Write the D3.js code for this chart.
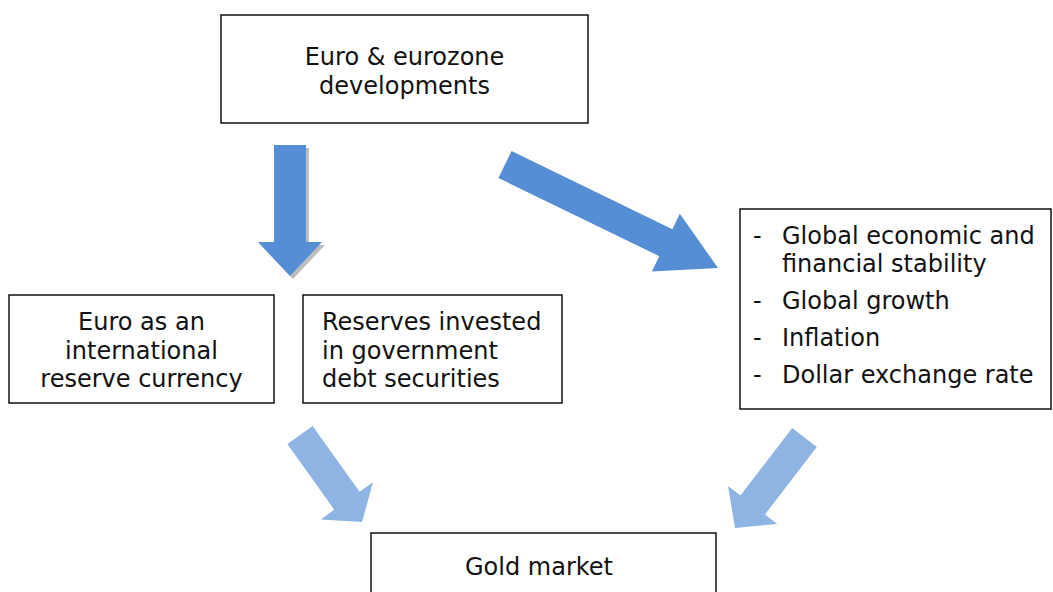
<!DOCTYPE html>
<html lang="en">
<head>
    <meta charset="UTF-8">
    <title>Euro and gold market</title>
    <script type="text/javascript" src="https://cdn.jsdelivr.net/npm/d3@7"></script>
    <style>
        body { margin: 0; background: #fff; }
        svg text { font-family: "DejaVu Sans", Verdana, sans-serif; font-size: 24px; fill: #111; }
        .box rect { fill: #fff; stroke: #111; stroke-width: 1.5; }
    </style>
</head>
<body>
<svg width="1053" height="592"></svg>

<script>
    // box texts (one entry per line)
    var topLines = ["Euro & eurozone", "developments"];
    var leftLines = ["Euro as an", "international", "reserve currency"];
    var midLines = ["Reserves invested", "in government", "debt securities"];
    var rightItems = [["Global economic and", "financial stability"], ["Global growth"], ["Inflation"], ["Dollar exchange rate"]];
    var goldLines = ["Gold market"];

    var svg = d3.select("svg");

    // layout in pixel space
    var boxes = [
        {x: 221, y: 15, w: 367, h: 108, lines: topLines, align: "middle", tx: 404.5, ty: 65},
        {x: 9, y: 295, w: 265, h: 108, lines: leftLines, align: "middle", tx: 141.5, ty: 330},
        {x: 303, y: 295, w: 259, h: 108, lines: midLines, align: "start", tx: 322, ty: 330},
        {x: 371, y: 533, w: 345, h: 80, lines: goldLines, align: "middle", tx: 539, ty: 575}
    ];

    var arrows = [
        {from: [290, 145], to: [290, 276], sw: 32, hw: 64, hl: 34, fill: "#558ed5", shadow: true},
        {from: [505, 164.5], to: [718, 268], sw: 30, hw: 64, hl: 58, fill: "#558ed5"},
        {from: [300, 435], to: [362, 522], sw: 31, hw: 64, hl: 26, fill: "#8eb4e3"},
        {from: [804.5, 437.5], to: [735, 528], sw: 31, hw: 62, hl: 29, fill: "#8eb4e3"}
    ];

    function arrowPoints(a) {
        var dx = a.to[0] - a.from[0], dy = a.to[1] - a.from[1];
        var len = Math.sqrt(dx * dx + dy * dy);
        var ux = dx / len, uy = dy / len, nx = -uy, ny = ux;
        var bx = a.to[0] - ux * a.hl, by = a.to[1] - uy * a.hl;
        return [
            [a.from[0] + nx * a.sw / 2, a.from[1] + ny * a.sw / 2],
            [bx + nx * a.sw / 2, by + ny * a.sw / 2],
            [bx + nx * a.hw / 2, by + ny * a.hw / 2],
            a.to,
            [bx - nx * a.hw / 2, by - ny * a.hw / 2],
            [bx - nx * a.sw / 2, by - ny * a.sw / 2],
            [a.from[0] - nx * a.sw / 2, a.from[1] - ny * a.sw / 2]
        ];
    }

    var line = d3.line();

    // shadows first
    svg.append("g").selectAll("path")
        .data(arrows.filter(function (d) { return d.shadow; }))
        .enter().append("path")
        .attr("d", function (d) { return line(arrowPoints(d)) + "Z"; })
        .attr("transform", "translate(3,3)")
        .attr("fill", "#bdbdbd");

    svg.append("g").selectAll("path")
        .data(arrows)
        .enter().append("path")
        .attr("d", function (d) { return line(arrowPoints(d)) + "Z"; })
        .attr("fill", function (d) { return d.fill; });

    var boxGroups = svg.append("g").selectAll("g.box")
        .data(boxes)
        .enter().append("g")
        .attr("class", "box");

    boxGroups.append("rect")
        .attr("x", function (d) { return d.x; })
        .attr("y", function (d) { return d.y; })
        .attr("width", function (d) { return d.w; })
        .attr("height", function (d) { return d.h; });

    boxGroups.each(function (d) {
        d3.select(this).selectAll("text")
            .data(d.lines)
            .enter().append("text")
            .attr("x", d.tx)
            .attr("y", function (t, i) { return d.ty + i * 28.5; })
            .attr("text-anchor", d.align)
            .text(function (t) { return t; });
    });

    // bullet list box
    var right = svg.append("g").attr("class", "box");
    right.append("rect").attr("x", 740).attr("y", 209).attr("width", 311).attr("height", 200);

    var rows = [];
    var yy = 244;
    rightItems.forEach(function (item) {
        item.forEach(function (t, i) {
            rows.push({text: t, dash: i === 0, y: yy});
            yy += i === item.length - 1 ? 37 : 28;
        });
    });

    right.selectAll("text.dash")
        .data(rows.filter(function (r) { return r.dash; }))
        .enter().append("text")
        .attr("class", "dash")
        .attr("x", 753)
        .attr("y", function (r) { return r.y; })
        .text("-");

    right.selectAll("text.item")
        .data(rows)
        .enter().append("text")
        .attr("class", "item")
        .attr("x", 782)
        .attr("y", function (r) { return r.y; })
        .text(function (r) { return r.text; });
</script>
</body>
</html>
